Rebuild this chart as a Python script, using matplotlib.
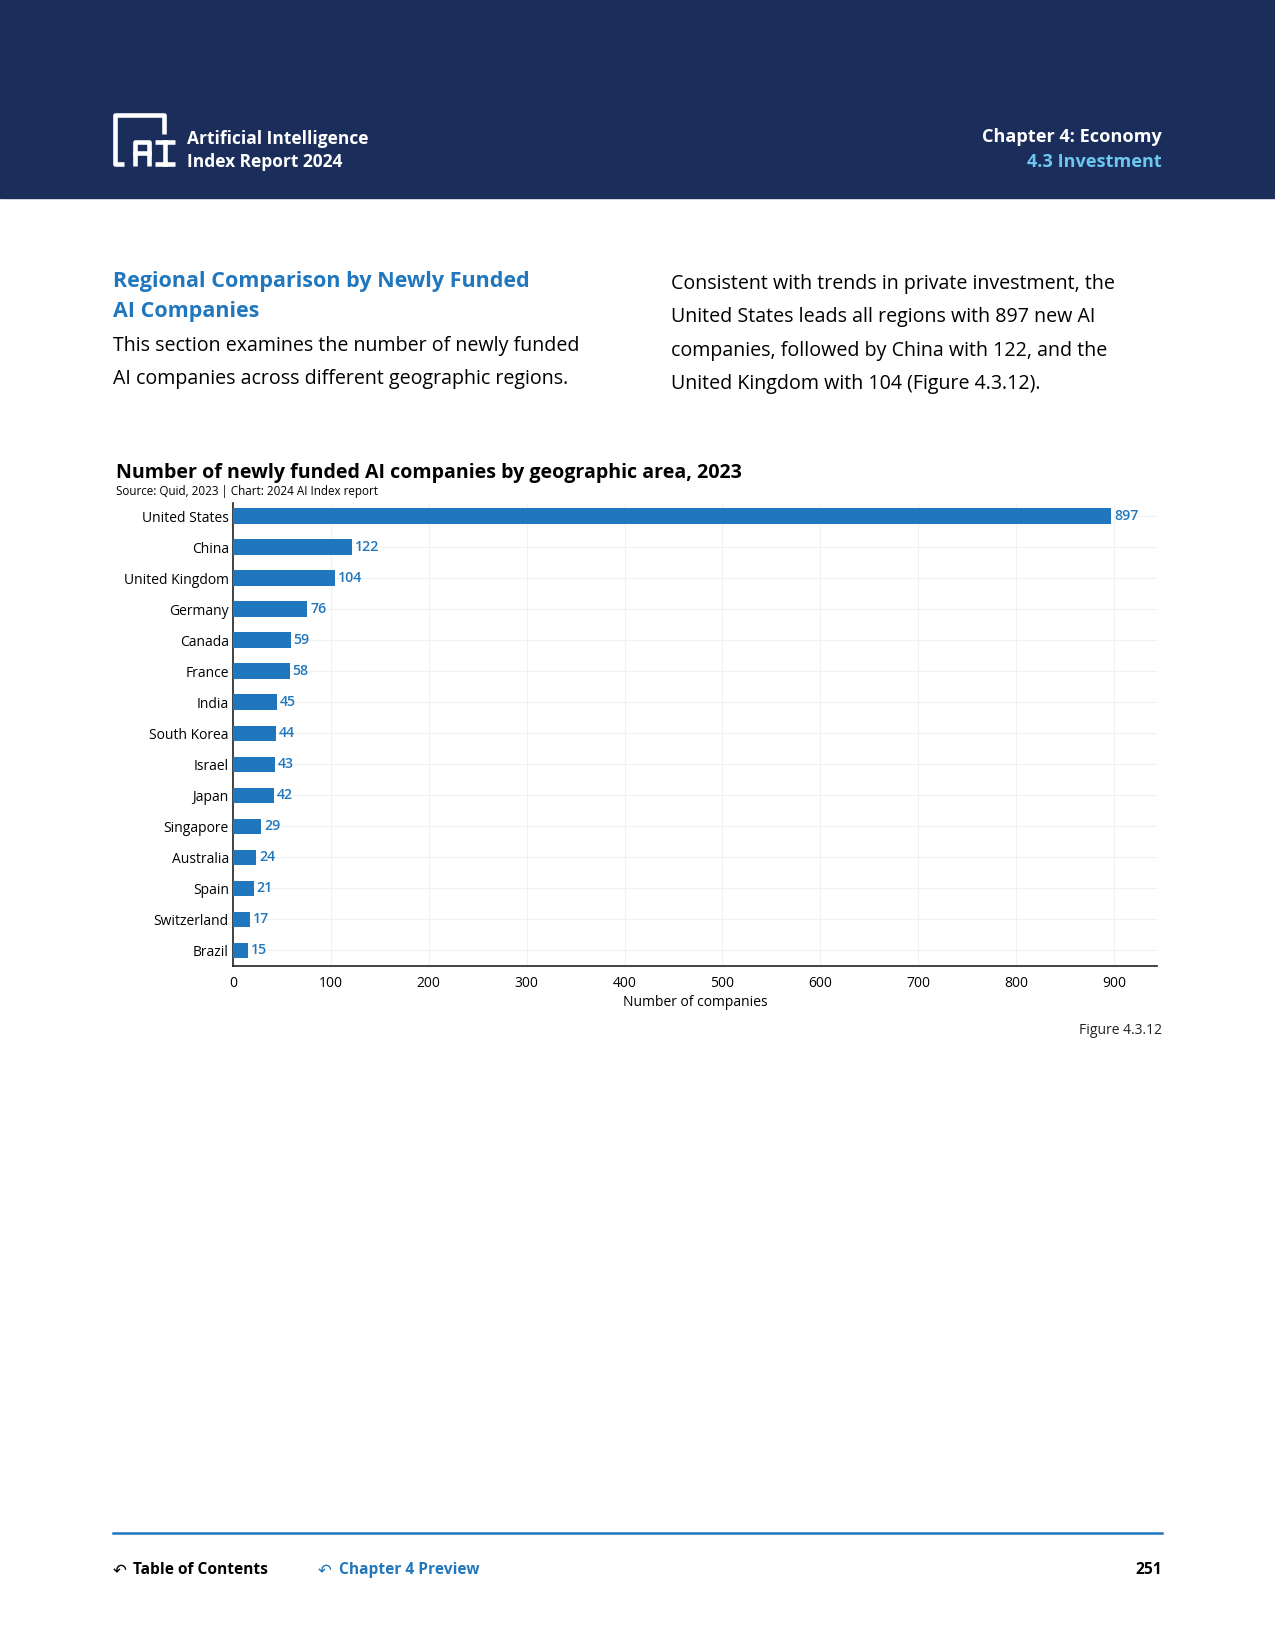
import matplotlib.pyplot as plt
from matplotlib.patches import Rectangle
from matplotlib.lines import Line2D

plt.rcParams['font.family'] = ['Open Sans', 'DejaVu Sans']

countries = ['United States', 'China', 'United Kingdom', 'Germany', 'Canada', 'France', 'India',
             'South Korea', 'Israel', 'Japan', 'Singapore', 'Australia', 'Spain', 'Switzerland', 'Brazil']
values = [897, 122, 104, 76, 59, 58, 45, 44, 43, 42, 29, 24, 21, 17, 15]
xticks = [0, 100, 200, 300, 400, 500, 600, 700, 800, 900]

NAVY = '#1b2d5b'
BLUE = '#2177bd'
LIGHT = '#6cc7ef'
W, H = 1275, 1650


def fx(x):
    return x / W


def fy(y):
    return 1 - y / H


def ptext(x, y, s, **kw):
    kw.setdefault('va', 'center')
    return fig.text(fx(x), fy(y), s, **kw)


def pline(xs, ys, **kw):
    fig.add_artist(Line2D([fx(v) for v in xs], [fy(v) for v in ys], transform=fig.transFigure, **kw))


fig = plt.figure(figsize=(12.75, 16.5), dpi=100)

# header band
fig.add_artist(Rectangle((0, fy(198)), 1, 198 / H, transform=fig.transFigure, color=NAVY, zorder=0))

# logo
lw = 3.3
pline([164, 164, 115, 115, 124], [134, 115, 115, 164, 164], color='white', lw=lw, solid_capstyle='butt',
      solid_joinstyle='round')
pline([135, 135, 149, 149], [166, 142, 142, 166], color='white', lw=lw, solid_capstyle='butt',
      solid_joinstyle='round')
pline([135, 149], [153, 153], color='white', lw=lw)
pline([155, 175], [142, 142], color='white', lw=lw, solid_capstyle='butt')
pline([165, 165], [142, 164], color='white', lw=lw)
pline([155, 175], [164, 164], color='white', lw=lw, solid_capstyle='butt')

ptext(187, 139, 'Artificial Intelligence', color='white', fontsize=12.5, fontweight='bold')
ptext(187, 162, 'Index Report 2024', color='white', fontsize=12.5, fontweight='bold')
ptext(1162, 137, 'Chapter 4: Economy', color='white', fontsize=13.1, fontweight='bold', ha='right')
ptext(1162, 162, '4.3 Investment', color=LIGHT, fontsize=13.1, fontweight='bold', ha='right')

# section text
ptext(113, 282, 'Regional Comparison by Newly Funded', color=BLUE, fontsize=15.5, fontweight='bold')
ptext(113, 312, 'AI Companies', color=BLUE, fontsize=15.5, fontweight='bold')
ptext(113, 346, 'This section examines the number of newly funded', color='black', fontsize=14.1)
ptext(113, 379, 'AI companies across different geographic regions.', color='black', fontsize=14.1)

right_lines = ['Consistent with trends in private investment, the',
               'United States leads all regions with 897 new AI',
               'companies, followed by China with 122, and the',
               'United Kingdom with 104 (Figure 4.3.12).']
for i, line in enumerate(right_lines):
    ptext(671, 284 + i * 33.3, line, color='black', fontsize=14.1)

# chart title
ptext(116, 473, 'Number of newly funded AI companies by geographic area, 2023', color='black', fontsize=14.1,
      fontweight='bold')
ptext(116, 491, 'Source: Quid, 2023 | Chart: 2024 AI Index report', color='black', fontsize=8.4)

# chart
ax = fig.add_axes([fx(233), fy(966), (1157 - 233) / W, (966 - 503) / H])
pos = list(range(len(countries)))
ax.barh(pos, values, height=0.5, color=BLUE, zorder=3)
for p, v in zip(pos, values):
    ax.text(v + 3, p, str(v), color=BLUE, fontsize=10.2, fontweight='semibold', va='center', ha='left')
ax.set_yticks(pos)
ax.set_yticklabels(countries, fontsize=10)
ax.set_ylim(len(countries) - 0.5, -0.42)
ax.set_xlim(0, 944)
ax.set_xticks(xticks)
ax.set_xticklabels([str(t) for t in xticks], fontsize=10)
ax.set_xlabel('Number of companies', fontsize=10, labelpad=3)
ax.grid(True, color='#f1f1f1', lw=0.8, zorder=0)
ax.set_axisbelow(True)
for s in ['top', 'right']:
    ax.spines[s].set_visible(False)
for s in ['left', 'bottom']:
    ax.spines[s].set_linewidth(1.2)
    ax.spines[s].set_color('#222222')
ax.tick_params(axis='x', length=0, pad=7)
ax.tick_params(axis='y', length=0, pad=3)

ptext(1162, 1030, 'Figure 4.3.12', color='#222222', fontsize=10, ha='right')

# footer
pline([113, 1162], [1533, 1533], color=BLUE, lw=1.8)
ptext(113, 1570, '\u21b6', color='black', fontsize=12, family='DejaVu Sans')
ptext(133, 1570, 'Table of Contents', color='black', fontsize=11.2, fontweight='bold')
ptext(318, 1570, '\u21b6', color=BLUE, fontsize=12, family='DejaVu Sans')
ptext(339, 1570, 'Chapter 4 Preview', color=BLUE, fontsize=11.2, fontweight='bold')
ptext(1162, 1570, '251', color='black', fontsize=11.2, fontweight='bold', ha='right')

fig.savefig('out.png', dpi=100)
